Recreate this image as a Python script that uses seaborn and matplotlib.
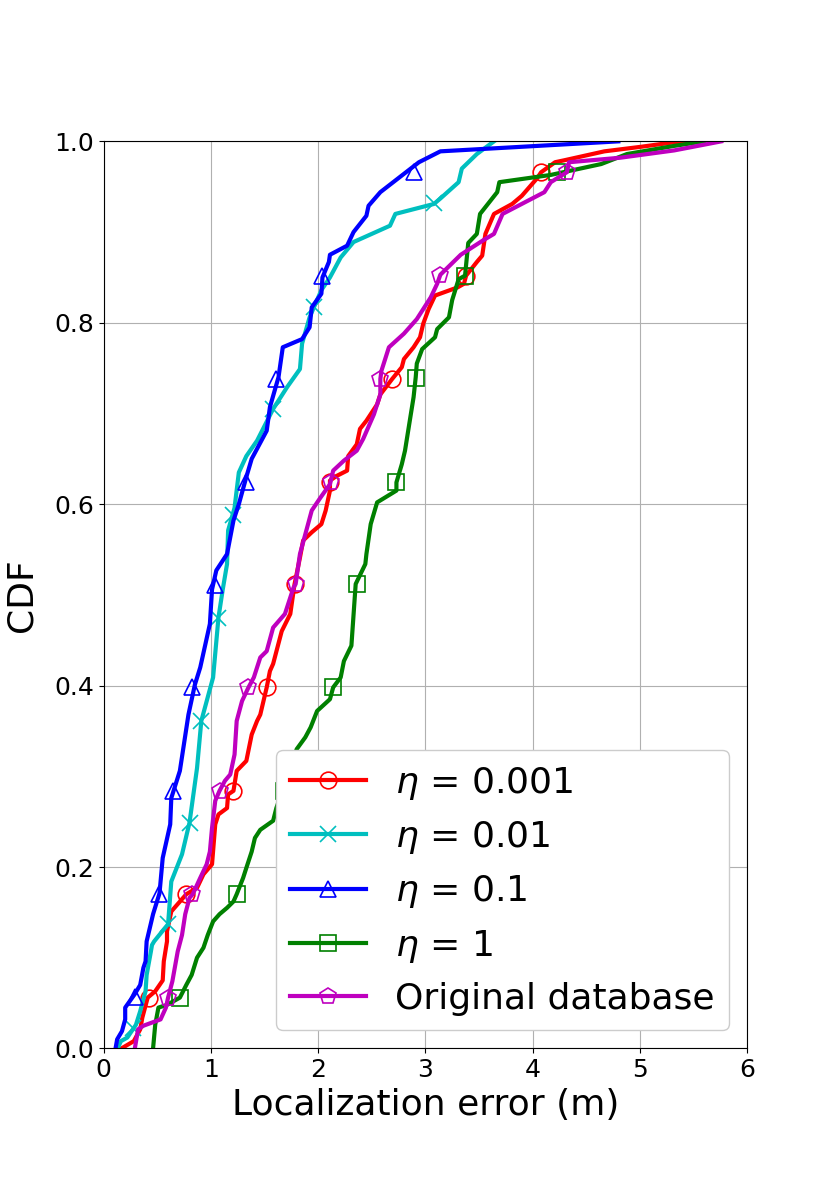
import numpy as np
import matplotlib
matplotlib.use('Agg')
import matplotlib.pyplot as plt
from matplotlib.lines import Line2D
import seaborn as sns

# ---------- 数据：CDF 折线顶点 ----------
labels = [r'$\eta$ = 0.001', r'$\eta$ = 0.01', r'$\eta$ = 0.1', r'$\eta$ = 1', 'Original database']

red_x = [0.165, 0.28, 0.34, 0.36, 0.41, 0.48, 0.55, 0.56, 0.59, 0.59, 0.63, 0.77, 0.87, 0.93, 1.01,
         1.04, 1.07, 1.15, 1.16, 1.21, 1.24, 1.33, 1.38, 1.43, 1.46, 1.52, 1.55, 1.58, 1.64, 1.66,
         1.74, 1.78, 1.83, 1.86, 1.94, 2.03, 2.07, 2.11, 2.11, 2.17, 2.27, 2.28, 2.36, 2.39, 2.45,
         2.55, 2.58, 2.69, 2.78, 2.80, 2.89, 2.95, 2.98, 3.03, 3.09, 3.30, 3.36, 3.38, 3.42, 3.48,
         3.53, 3.56, 3.64, 3.81, 3.90, 4.04, 4.08, 4.21, 4.29, 4.67, 5.01, 5.32, 5.48]
red_y = [0.0, 0.008, 0.021, 0.034, 0.056, 0.063, 0.075, 0.096, 0.118, 0.129, 0.151, 0.170, 0.177, 0.192, 0.203,
         0.247, 0.258, 0.265, 0.280, 0.284, 0.306, 0.317, 0.346, 0.361, 0.368, 0.398, 0.416, 0.424, 0.451, 0.460,
         0.479, 0.512, 0.541, 0.560, 0.569, 0.578, 0.593, 0.615, 0.626, 0.631, 0.637, 0.653, 0.666, 0.683, 0.692,
         0.710, 0.721, 0.738, 0.751, 0.760, 0.773, 0.784, 0.799, 0.815, 0.830, 0.839, 0.843, 0.852, 0.858, 0.867,
         0.874, 0.898, 0.920, 0.931, 0.940, 0.959, 0.966, 0.977, 0.979, 0.989, 0.994, 0.999, 1.0]

cyan_x = [0.13, 0.16, 0.22, 0.30, 0.34, 0.39, 0.40, 0.44, 0.45, 0.47, 0.60, 0.63, 0.73, 0.80, 0.87,
          0.91, 1.02, 1.07, 1.11, 1.15, 1.16, 1.22, 1.26, 1.33, 1.43, 1.58, 1.71, 1.83, 1.85, 1.92,
          1.96, 2.03, 2.11, 2.21, 2.33, 2.67, 2.72, 3.08, 3.14, 3.31, 3.34, 3.48, 3.64]
cyan_y = [0.0, 0.008, 0.012, 0.026, 0.041, 0.063, 0.081, 0.107, 0.114, 0.118, 0.137, 0.184, 0.214, 0.249, 0.309,
          0.361, 0.409, 0.475, 0.506, 0.534, 0.571, 0.596, 0.635, 0.653, 0.670, 0.705, 0.729, 0.749, 0.777, 0.806,
          0.817, 0.836, 0.850, 0.872, 0.889, 0.907, 0.920, 0.931, 0.937, 0.955, 0.970, 0.986, 1.0]

blue_x = [0.11, 0.125, 0.17, 0.20, 0.20, 0.29, 0.34, 0.37, 0.39, 0.40, 0.46, 0.52, 0.55, 0.62, 0.63,
          0.71, 0.79, 0.85, 0.90, 0.99, 1.01, 1.05, 1.15, 1.21, 1.26, 1.33, 1.38, 1.52, 1.55, 1.63,
          1.67, 1.85, 1.92, 1.94, 2.03, 2.04, 2.10, 2.11, 2.27, 2.33, 2.45, 2.47, 2.58, 2.94, 3.14, 4.80]
blue_y = [0.0, 0.010, 0.019, 0.032, 0.045, 0.060, 0.070, 0.089, 0.096, 0.118, 0.148, 0.171, 0.210, 0.247, 0.276,
          0.306, 0.368, 0.401, 0.420, 0.468, 0.506, 0.527, 0.545, 0.582, 0.600, 0.630, 0.650, 0.681, 0.707, 0.740,
          0.773, 0.782, 0.795, 0.817, 0.832, 0.850, 0.867, 0.875, 0.885, 0.900, 0.918, 0.929, 0.944, 0.977, 0.989, 1.0]

green_x = [0.46, 0.48, 0.51, 0.59, 0.71, 0.77, 0.82, 0.87, 0.93, 0.97, 1.02, 1.08, 1.15, 1.21, 1.24,
           1.30, 1.33, 1.38, 1.41, 1.46, 1.58, 1.61, 1.80, 1.88, 1.93, 1.99, 2.11, 2.14, 2.21, 2.24,
           2.31, 2.35, 2.44, 2.45, 2.49, 2.55, 2.73, 2.73, 2.78, 2.81, 2.86, 2.89, 2.91, 2.92, 2.97,
           3.09, 3.11, 3.22, 3.25, 3.31, 3.37, 3.40, 3.48, 3.51, 3.67, 3.69, 4.17, 4.64, 4.88, 5.32, 5.60]
green_y = [0.0, 0.026, 0.045, 0.048, 0.056, 0.070, 0.081, 0.100, 0.111, 0.125, 0.140, 0.148, 0.155, 0.162, 0.170,
           0.188, 0.199, 0.217, 0.232, 0.241, 0.251, 0.265, 0.330, 0.343, 0.354, 0.372, 0.385, 0.398, 0.409, 0.427,
           0.444, 0.512, 0.534, 0.545, 0.578, 0.602, 0.615, 0.624, 0.644, 0.659, 0.696, 0.718, 0.740, 0.755, 0.771,
           0.784, 0.793, 0.806, 0.825, 0.848, 0.852, 0.888, 0.898, 0.920, 0.944, 0.955, 0.963, 0.975, 0.986, 0.995, 1.0]

mag_x = [0.29, 0.32, 0.37, 0.53, 0.58, 0.60, 0.64, 0.69, 0.73, 0.76, 0.80, 0.83, 0.90, 0.96, 0.99,
         1.01, 1.04, 1.08, 1.13, 1.18, 1.22, 1.24, 1.29, 1.35, 1.40, 1.46, 1.52, 1.58, 1.69, 1.77,
         1.79, 1.83, 1.94, 2.02, 2.11, 2.14, 2.24, 2.36, 2.42, 2.52, 2.58, 2.58, 2.59, 2.66, 2.80,
         2.92, 3.05, 3.11, 3.14, 3.33, 3.54, 3.64, 3.72, 4.11, 4.17, 4.32, 4.34, 4.82, 5.32, 5.76]
mag_y = [0.0, 0.021, 0.025, 0.032, 0.045, 0.056, 0.074, 0.107, 0.125, 0.148, 0.166, 0.170, 0.188, 0.203, 0.217,
         0.243, 0.273, 0.284, 0.295, 0.302, 0.324, 0.361, 0.383, 0.398, 0.409, 0.431, 0.438, 0.464, 0.479, 0.508,
         0.512, 0.545, 0.593, 0.607, 0.622, 0.637, 0.648, 0.659, 0.672, 0.699, 0.721, 0.738, 0.747, 0.773, 0.788,
         0.804, 0.828, 0.843, 0.853, 0.875, 0.891, 0.898, 0.920, 0.944, 0.955, 0.966, 0.977, 0.982, 0.990, 1.0]

# 标记点位置（每条曲线 9 个）
red_mx = [0.42, 0.77, 1.21, 1.52, 1.78, 2.11, 2.69, 3.38, 4.08]
red_my = [0.056, 0.170, 0.284, 0.398, 0.512, 0.625, 0.738, 0.852, 0.966]
cyan_mx = [0.27, 0.60, 0.80, 0.91, 1.07, 1.21, 1.58, 1.96, 3.08]
cyan_my = [0.022, 0.137, 0.249, 0.361, 0.475, 0.588, 0.705, 0.817, 0.932]
blue_mx = [0.29, 0.52, 0.65, 0.82, 1.04, 1.33, 1.61, 2.04, 2.89]
blue_my = [0.057, 0.170, 0.284, 0.398, 0.511, 0.625, 0.738, 0.852, 0.966]
green_mx = [0.71, 1.24, 1.68, 2.14, 2.36, 2.73, 2.91, 3.37, 4.23]
green_my = [0.056, 0.170, 0.284, 0.398, 0.512, 0.624, 0.739, 0.852, 0.966]
mag_mx = [0.60, 0.82, 1.08, 1.35, 1.79, 2.12, 2.58, 3.14, 4.32]
mag_my = [0.056, 0.170, 0.284, 0.398, 0.512, 0.624, 0.738, 0.853, 0.966]

series = [
    (red_x, red_y, red_mx, red_my, 'r', 'o'),
    (cyan_x, cyan_y, cyan_mx, cyan_my, 'c', 'x'),
    (blue_x, blue_y, blue_mx, blue_my, 'b', '^'),
    (green_x, green_y, green_mx, green_my, 'g', 's'),
    (mag_x, mag_y, mag_mx, mag_my, 'm', 'p'),
]

# ---------- 绘图 ----------
fig, ax = plt.subplots(figsize=(8.3, 11.78), dpi=100)

handles = []
for (x, y, mx, my, c, mk), lab in zip(series, labels):
    sns.lineplot(x=x, y=y, sort=False, estimator=None, color=c, linewidth=3, ax=ax)
    ax.plot(mx, my, linestyle='none', marker=mk, markersize=12, markerfacecolor='none',
            markeredgecolor=c, markeredgewidth=1.2)
    handles.append(Line2D([], [], color=c, linewidth=3, marker=mk, markersize=12,
                          markerfacecolor='none', markeredgecolor=c, markeredgewidth=1.2))

ax.set_xlim(0, 6)
ax.set_ylim(0, 1)
ax.set_xticks(range(0, 7))
ax.set_yticks([0.0, 0.2, 0.4, 0.6, 0.8, 1.0])
ax.tick_params(labelsize=18)
ax.set_xlabel('Localization error (m)', fontsize=26)
ax.set_ylabel('CDF', fontsize=26, labelpad=11)
ax.grid(True)

ax.legend(handles, labels, loc='lower right', fontsize=26, framealpha=1,
          handlelength=2.1, labelspacing=0.48)

fig.savefig('out.png', dpi=100)
